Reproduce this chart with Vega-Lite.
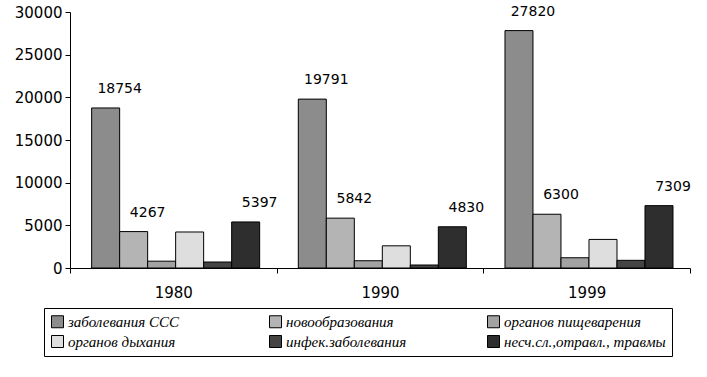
{
  "$schema": "https://vega.github.io/schema/vega-lite/v6.json",
  "autosize": "none",
  "padding": {"left": 70, "top": 12, "right": 17, "bottom": 109},
  "width": 620,
  "height": 256,
  "background": "white",
  "data": {"values": [
    {"year": "1980", "cat": "заболевания ССС", "value": 18754, "show": 1},
    {"year": "1980", "cat": "новообразования", "value": 4267, "show": 1},
    {"year": "1980", "cat": "органов пищеварения", "value": 800, "show": 0},
    {"year": "1980", "cat": "органов дыхания", "value": 4220, "show": 0},
    {"year": "1980", "cat": "инфек.заболевания", "value": 700, "show": 0},
    {"year": "1980", "cat": "несч.сл.,отравл., травмы", "value": 5397, "show": 1},
    {"year": "1990", "cat": "заболевания ССС", "value": 19791, "show": 1},
    {"year": "1990", "cat": "новообразования", "value": 5842, "show": 1},
    {"year": "1990", "cat": "органов пищеварения", "value": 850, "show": 0},
    {"year": "1990", "cat": "органов дыхания", "value": 2600, "show": 0},
    {"year": "1990", "cat": "инфек.заболевания", "value": 350, "show": 0},
    {"year": "1990", "cat": "несч.сл.,отравл., травмы", "value": 4830, "show": 1},
    {"year": "1999", "cat": "заболевания ССС", "value": 27820, "show": 1},
    {"year": "1999", "cat": "новообразования", "value": 6300, "show": 1},
    {"year": "1999", "cat": "органов пищеварения", "value": 1200, "show": 0},
    {"year": "1999", "cat": "органов дыхания", "value": 3350, "show": 0},
    {"year": "1999", "cat": "инфек.заболевания", "value": 900, "show": 0},
    {"year": "1999", "cat": "несч.сл.,отравл., травмы", "value": 7309, "show": 1}
  ]},
  "encoding": {
    "x": {
      "field": "year", "type": "nominal",
      "scale": {"paddingInner": 0, "paddingOuter": 0},
      "axis": {
        "title": null, "labelAngle": 0, "tickBand": "extent",
        "labelFont": "DejaVu Sans", "labelFontSize": 15, "labelColor": "black",
        "labelPadding": 12, "tickSize": 5, "tickColor": "black", "domainColor": "black",
        "grid": false
      }
    },
    "xOffset": {
      "field": "cat", "type": "nominal",
      "sort": ["заболевания ССС", "новообразования", "органов пищеварения", "органов дыхания", "инфек.заболевания", "несч.сл.,отравл., травмы"],
      "scale": {"paddingInner": 0, "paddingOuter": 0.69, "align": 0.56}
    },
    "y": {
      "field": "value", "type": "quantitative",
      "scale": {"domain": [0, 30000], "nice": false},
      "axis": {
        "title": null, "values": [0, 5000, 10000, 15000, 20000, 25000, 30000],
        "format": "d", "grid": false,
        "labelFont": "DejaVu Sans", "labelFontSize": 15, "labelColor": "black",
        "labelPadding": 3, "tickSize": 5, "tickColor": "black", "domainColor": "black"
      }
    }
  },
  "layer": [
    {
      "mark": {"type": "bar", "stroke": "black", "strokeWidth": 1},
      "encoding": {
        "fill": {
          "field": "cat", "type": "nominal",
          "sort": ["заболевания ССС", "новообразования", "органов пищеварения", "органов дыхания", "инфек.заболевания", "несч.сл.,отравл., травмы"],
          "scale": {"range": ["#8c8c8c", "#b4b4b4", "#a2a2a2", "#dedede", "#444444", "#2e2e2e"]},
          "legend": {
            "title": null, "orient": "none", "legendX": -26, "legendY": 296,
            "direction": "horizontal", "columns": 3, "gridAlign": "all",
            "columnPadding": 37, "rowPadding": 3,
            "symbolType": "square", "symbolSize": 144, "symbolStrokeColor": "black", "symbolStrokeWidth": 1,
            "labelFont": "Liberation Serif", "labelFontStyle": "italic", "labelFontSize": 15, "labelColor": "black",
            "labelOffset": 3, "labelLimit": 300,
            "strokeColor": "black", "padding": 6, "fillColor": "white"
          }
        }
      }
    },
    {
      "transform": [{"filter": "datum.show == 1"}],
      "mark": {"type": "text", "baseline": "bottom", "dy": -12, "dx": 14, "font": "DejaVu Sans", "fontSize": 14, "color": "black"},
      "encoding": {"text": {"field": "value", "type": "quantitative", "format": "d"}}
    }
  ],
  "config": {"view": {"stroke": null}}
}
